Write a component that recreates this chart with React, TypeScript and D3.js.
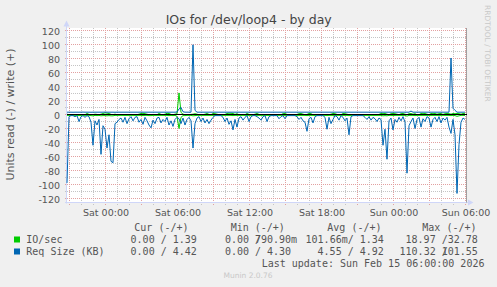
import React from 'react';
import * as d3 from 'd3';

const chartTitle = 'IOs for /dev/loop4 - by day';
const yAxisTitle = 'Units read (-) / write (+)';
const watermark = 'RRDTOOL / TOBI OETIKER';
const footer = 'Munin 2.0.76';
const lastUpdate = 'Last update: Sun Feb 15 06:00:00 2026';

const startTime = Date.UTC(2026, 1, 13, 20, 45);
const endTime = Date.UTC(2026, 1, 15, 6, 5);
const stepMinutes = 10;

const yMajorValues = [-120, -100, -80, -60, -40, -20, 0, 20, 40, 60, 80, 100, 120];
const yMinorValues = [-110, -90, -70, -50, -30, -10, 10, 30, 50, 70, 90, 110];

// IO/sec, read (drawn negative)
const ioRead = [
  0.2, 0.2, 0.2, 0.2, 0.2, 0.2, 0.5, 0.2, 0.2, 0.2,
  0.2, 0.2, 0.5, 0.8, 0.2, 0.5, 0.2, 0.8, 0.5, 0.5,
  0.8, 0.5, 0.8, 0.8, 0.2, 0.2, 0.2, 0.2, 0.2, 0.2,
  0.2, 0.2, 0.2, 0.2, 0.2, 0.2, 0.2, 0.2, 0.5, 0.2,
  0.2, 0.5, 0.5, 0.2, 0.2, 0.2, 0.2, 0.2, 0.2, 0.2,
  0.2, 0.5, 0.2, 0.5, 0.2, 1.5, 19, 3, 0.5, 0.5,
  0.2, 0.2, 0.2, 0.8, 0.5, 0.2, 0.2, 0.2, 0.2, 0.2,
  0.2, 0.2, 0.2, 0.2, 0.2, 0.2, 0.2, 0.2, 0.2, 0.2,
  0.2, 0.2, 0.2, 0.5, 0.2, 0.2, 0.2, 0.2, 0.2, 0.2,
  0.2, 0.2, 0.2, 0.2, 0.2, 0.2, 0.2, 0.2, 0.2, 0.2,
  0.2, 0.2, 0.2, 0.2, 0.2, 0.2, 0.2, 0.2, 0.2, 0.2,
  0.2, 0.2, 0.2, 0.2, 0.2, 0.2, 0.2, 0.2, 0.2, 0.2,
  0.5, 0.2, 0.2, 0.2, 0.2, 0.2, 0.2, 0.2, 0.2, 0.2,
  0.5, 0.2, 0.2, 0.2, 0.2, 0.2, 0.2, 0.2, 0.2, 0.2,
  0.2, 0.5, 0.2, 0.2, 0.2, 0.2, 0.2, 0.2, 0.2, 0.2,
  0.2, 0.2, 0.2, 0.2, 0.2, 0.2, 0.2, 0.2, 0.8, 0.5,
  0.8, 0.2, 0.2, 0.5, 0.2, 0.2, 0.2, 0.2, 0.2, 0.2,
  1.2, 0.2, 0.2, 0.2, 0.5, 0.2, 0.2, 0.2, 0.2, 0.2,
  0.2, 0.2, 0.2, 0.2, 0.2, 0.2, 0.2, 0.2, 0.2, 0.2,
  0.2, 0.2, 0.5, 0.2, 0.5, 1.5, 0.8, 0.2, 0.2, 0.2,
];

// IO/sec, write (drawn positive)
const ioWrite = [
  1.5, 0.8, 0.8, 0.8, 0.8, 0.8, 0.8, 0.8, 0.8, 0.8,
  2.5, 1.2, 0.8, 0.8, 1.5, 1.2, 0.8, 1.5, 2.5, 3.5,
  3.0, 2.5, 1.2, 0.8, 1.5, 0.8, 0.8, 1.2, 0.8, 0.8,
  0.8, 0.8, 1.2, 0.8, 0.8, 0.8, 1.5, 2.5, 2.8, 2.2,
  1.5, 0.8, 0.8, 1.2, 0.8, 0.8, 2.5, 1.2, 0.8, 1.5,
  2.8, 2.5, 1.2, 0.8, 1.5, 2.0, 32.0, 4.0, 1.5, 0.8,
  0.8, 0.8, 1.2, 1.5, 2.2, 1.5, 0.8, 1.2, 0.8, 1.5,
  2.5, 1.2, 0.8, 2.5, 2.2, 1.5, 0.8, 0.8, 0.8, 1.2,
  2.5, 3.0, 2.8, 2.5, 1.2, 2.2, 0.8, 0.8, 1.2, 0.8,
  2.5, 1.2, 0.8, 0.8, 1.5, 2.5, 1.2, 0.8, 0.8, 0.8,
  0.8, 0.8, 0.8, 0.8, 0.8, 0.8, 1.2, 0.8, 2.2, 2.5,
  1.2, 0.8, 0.8, 0.8, 0.8, 1.2, 2.2, 2.5, 1.5, 0.8,
  1.2, 2.5, 2.2, 0.8, 0.8, 0.8, 0.8, 0.8, 0.8, 0.8,
  1.2, 0.8, 1.5, 2.5, 2.2, 1.2, 0.8, 0.8, 2.5, 2.2,
  1.5, 0.8, 0.8, 0.8, 0.8, 0.8, 0.8, 0.8, 0.8, 0.8,
  0.8, 0.8, 0.8, 0.8, 0.8, 0.8, 1.2, 2.5, 2.2, 2.5,
  1.5, 0.8, 2.2, 2.5, 2.2, 1.5, 0.8, 2.2, 2.5, 1.5,
  0.8, 2.2, 2.5, 1.5, 2.2, 0.8, 0.8, 2.5, 2.2, 2.5,
  1.5, 0.8, 2.5, 2.2, 2.5, 1.5, 2.2, 2.5, 1.2, 2.2,
  2.5, 2.2, 1.5, 2.5, 2.2, 2.5, 2.2, 1.5, 2.5, 2.2,
];

// Req Size (KB), read (drawn negative)
const reqRead = [
  97, 2, 0.5, 0.5, 2, 0.5, 9, 2, 0.5, 3,
  0.5, 2, 10, 43, 8, 14, 6, 56, 15, 20,
  47, 28, 66, 68, 12, 10, 6, 4, 10, 3,
  12, 5, 2, 8, 3, 2, 10, 6, 13, 3,
  8, 14, 18, 7, 12, 4, 3, 11, 6, 9,
  3, 14, 8, 16, 6, 3, 5, 12, 4, 14,
  6, 3, 8, 47, 12, 4, 2, 9, 4, 11,
  6, 12, 7, 3, 0.5, 0.5, 0.5, 0.5, 3, 9,
  4, 13, 8, 21, 6, 17, 4, 2, 7, 3,
  0.5, 9, 2, 0.5, 0.5, 2, 4, 7, 2, 0.5,
  9, 2, 0.5, 0.5, 0.5, 0.5, 5, 2, 0.5, 5,
  0.5, 0.5, 0.5, 0.5, 0.5, 2, 6, 3, 8, 10,
  23, 5, 3, 11, 2, 0.5, 0.5, 0.5, 0.5, 3,
  20, 3, 12, 6, 0.5, 2, 7, 0.5, 3, 8,
  4, 28, 2, 0.5, 0.5, 0.5, 0.5, 0.5, 0.5, 3,
  6, 2, 7, 3, 5, 9, 4, 6, 43, 20,
  63, 8, 4, 21, 6, 10, 3, 8, 2, 10,
  83, 15, 9, 4, 19, 6, 3, 17, 5, 9,
  2, 4, 17, 6, 3, 9, 2, 11, 4, 7,
  3, 17, 26, 6, 28, 112, 42, 10, 4, 6,
];

// Req Size (KB), write (drawn positive)
const reqWrite = [
  4.4, 4.4, 4.4, 4.3, 4.4, 4.4, 4.4, 4.4, 4.5, 4.4,
  4.4, 4.4, 4.3, 4.4, 4.4, 4.4, 4.4, 4.4, 4.4, 4.5,
  4.4, 4.4, 4.4, 4.4, 4.3, 4.4, 4.4, 4.4, 4.4, 4.4,
  4.4, 4.4, 4.4, 4.4, 4.4, 4.4, 4.4, 4.5, 4.4, 4.4,
  4.4, 4.4, 4.4, 4.4, 4.4, 4.4, 4.4, 4.4, 4.4, 4.4,
  4.4, 4.4, 4.4, 4.4, 4.4, 4.6, 9.0, 11.0, 5.0, 4.4,
  4.4, 4.4, 4.4, 101.0, 7.0, 4.4, 4.4, 4.4, 4.4, 4.4,
  4.4, 4.4, 4.4, 4.4, 4.4, 4.4, 4.4, 4.4, 4.4, 4.4,
  4.4, 4.4, 4.4, 4.4, 4.4, 4.4, 4.4, 4.4, 4.4, 4.4,
  4.4, 4.4, 4.4, 4.4, 4.4, 4.4, 4.4, 4.4, 4.4, 4.4,
  4.4, 4.4, 4.4, 4.4, 4.4, 4.4, 4.4, 4.4, 4.4, 4.4,
  4.4, 4.4, 4.4, 4.4, 4.4, 4.4, 4.4, 4.4, 4.4, 4.4,
  4.4, 4.4, 4.4, 4.4, 4.4, 4.4, 4.4, 4.4, 4.4, 4.4,
  4.4, 4.4, 4.4, 4.4, 4.4, 4.4, 4.4, 4.4, 4.4, 4.4,
  4.4, 4.4, 4.4, 4.4, 4.4, 4.4, 4.4, 4.4, 4.4, 4.4,
  4.4, 4.4, 4.4, 4.4, 4.4, 4.4, 4.4, 4.4, 4.4, 4.4,
  4.4, 4.4, 4.4, 4.4, 4.4, 4.4, 4.4, 4.4, 4.4, 4.4,
  4.4, 4.4, 6.0, 4.4, 4.4, 4.4, 4.4, 4.4, 4.4, 4.4,
  4.4, 4.4, 4.4, 4.4, 4.4, 4.4, 4.4, 4.4, 4.4, 4.4,
  4.4, 4.4, 82.0, 10.0, 7.0, 4.4, 4.4, 4.4, 4.4, 4.4,
];

const seriesNames = ['IO/sec', 'Req Size (KB)'];
const seriesColors = ['#00cc00', '#0066b3'];
const statHeaders = ['Cur (-/+)', 'Min (-/+)', 'Avg (-/+)', 'Max (-/+)'];
const curValues = [['0.00', '1.39'], ['0.00', '4.42']];
const minValues = [['0.00', '790.90m'], ['0.00', '4.30']];
const avgValues = [['101.66m', '1.34'], ['4.55', '4.92']];
const maxValues = [['18.97', '32.78'], ['110.32', '101.55']];

const W = 497;
const H = 287;
const plotLeft = 67;
const plotRight = 467;
const plotTop = 28;
const plotBottom = 202.5;
const CH = 6.02;
const SANS = "'DejaVu Sans', sans-serif";
const MONO = "'DejaVu Sans Mono', monospace";
const TEXT = '#555555';
const AXIS = '#cfd6f8';

const x = d3.scaleUtc().domain([new Date(startTime), new Date(endTime)]).range([plotLeft, plotRight]);
const y = d3.scaleLinear().domain([-125, 125]).range([plotBottom, plotTop]);

const timeAt = (i: number) => new Date(startTime + i * stepMinutes * 60000);
const posLine = d3.line<number>().x((_, i) => x(timeAt(i))).y((d) => y(d));
const negLine = d3.line<number>().x((_, i) => x(timeAt(i))).y((d) => y(-d));

const crisp = (v: number) => Math.round(v) - 0.5;

function splitVal(v: string) {
  const m = v.match(/^([\d.]+)(\D*)$/);
  return m ? { num: m[1], suf: m[2] } : { num: v, suf: '' };
}

function StatCell({ pair, slashX, yy }: { pair: string[]; slashX: number; yy: number }) {
  const a = splitVal(pair[0]);
  const b = splitVal(pair[1]);
  return (
    <g>
      <text x={slashX - CH} y={yy} textAnchor="end">{a.num}</text>
      {a.suf && <text x={slashX - CH} y={yy}>{a.suf}</text>}
      <text x={slashX} y={yy}>/</text>
      <text x={slashX + 6 * CH} y={yy} textAnchor="end">{b.num}</text>
      {b.suf && <text x={slashX + 6 * CH} y={yy}>{b.suf}</text>}
    </g>
  );
}

export default function App() {
  const hourTicks = x.ticks(d3.utcHour.every(1)!);
  const majorV = hourTicks.filter((t) => t.getUTCHours() % 3 === 0);
  const minorV = hourTicks.filter((t) => t.getUTCHours() % 3 !== 0);
  const labelTicks = x.ticks(d3.utcHour.every(6)!);
  const fmt = d3.utcFormat('%a %H:%M');

  const slashXs = [160.7, 255, 347.7, 441.7];
  const headerXs = [134.3, 230.7, 327.3, 422.3];
  const statSets = [curValues, minValues, avgValues, maxValues];
  const rowY = [242.5, 254.5];

  return (
    <svg width={W} height={H} style={{ position: 'absolute', left: 0, top: 0, display: 'block' }}>
      <rect x={0} y={0} width={W} height={H} fill="#f0f0f0" />
      <rect x={plotLeft} y={plotTop} width={plotRight - plotLeft} height={plotBottom - plotTop} fill="#ffffff" />

      {/* minor grid */}
      <g stroke="#c4c4c4" strokeWidth={1} strokeDasharray="1,1" shapeRendering="crispEdges">
        {minorV.map((t, i) => (
          <line key={'mv' + i} x1={crisp(x(t))} x2={crisp(x(t))} y1={plotTop} y2={plotBottom + 2} />
        ))}
        {yMinorValues.map((v) => (
          <line key={'mh' + v} x1={plotLeft - 2} x2={plotRight} y1={crisp(y(v))} y2={crisp(y(v))} />
        ))}
      </g>
      {/* major grid */}
      <g stroke="#e2a0a0" strokeWidth={1} strokeDasharray="1,1" shapeRendering="crispEdges">
        {majorV.map((t, i) => (
          <line key={'Mv' + i} x1={crisp(x(t))} x2={crisp(x(t))} y1={plotTop} y2={plotBottom + 2} />
        ))}
        {yMajorValues.map((v) => (
          <line key={'Mh' + v} x1={plotLeft - 2} x2={plotRight} y1={crisp(y(v))} y2={crisp(y(v))} />
        ))}
      </g>

      {/* axes */}
      <line x1={66.5} x2={66.5} y1={25} y2={plotBottom + 1} stroke={AXIS} strokeWidth={1} />
      <path d="M63.5,26.5 L69.5,26.5 L66.5,20.5 Z" fill={AXIS} />
      <line x1={65} x2={469} y1={202.5} y2={202.5} stroke={AXIS} strokeWidth={1} />
      <path d="M468,199.5 L468,205.5 L473.5,202.5 Z" fill={AXIS} />
      <line x1={466.5} x2={466.5} y1={plotTop} y2={plotBottom} stroke="#a0a0a0" strokeWidth={1} />

      {/* data */}
      <path d={negLine(ioRead) || ''} fill="none" stroke={seriesColors[0]} strokeWidth={1} />
      <path d={posLine(ioWrite) || ''} fill="none" stroke={seriesColors[0]} strokeWidth={1} />
      <path d={negLine(reqRead) || ''} fill="none" stroke={seriesColors[1]} strokeWidth={1} />
      <path d={posLine(reqWrite) || ''} fill="none" stroke={seriesColors[1]} strokeWidth={1} />
      <line x1={plotLeft} x2={plotRight} y1={crisp(y(0)) + 0} y2={crisp(y(0))} stroke="#000" strokeWidth={1} />

      {/* y tick labels */}
      <g fontFamily={SANS} fontSize={9.5} fill={TEXT} textAnchor="end">
        {yMajorValues.map((v) => (
          <text key={'yl' + v} x={60} y={y(v) + 3.5}>{v}</text>
        ))}
      </g>
      {/* x tick labels */}
      <g fontFamily={SANS} fontSize={9.5} fill={TEXT} textAnchor="middle">
        {labelTicks.map((t, i) => (
          <text key={'xl' + i} x={x(t)} y={216}>{fmt(t)}</text>
        ))}
      </g>

      {/* titles */}
      <text x={248.7} y={24} textAnchor="middle" fontFamily={SANS} fontSize={12.5} fill="#444">{chartTitle}</text>
      <text transform="translate(14,114.5) rotate(-90)" textAnchor="middle" fontFamily={SANS} fontSize={11} fill={TEXT}>{yAxisTitle}</text>
      <text transform="translate(485,5) rotate(90)" fontFamily={SANS} fontSize={7.5} fill="#c8c8c8">{watermark}</text>

      {/* legend */}
      <g fontFamily={MONO} fontSize={10} fill={TEXT} style={{ whiteSpace: 'pre' }}>
        {statHeaders.map((h, i) => (
          <text key={'h' + i} x={headerXs[i]} y={230.5}>{h}</text>
        ))}
        {seriesNames.map((name, r) => (
          <g key={'row' + r}>
            <rect x={14} y={rowY[r] - 6} width={6} height={6} fill={seriesColors[r]} />
            <text x={26.3} y={rowY[r]}>{name}</text>
            {statSets.map((set, c) => (
              <StatCell key={'c' + c} pair={set[r]} slashX={slashXs[c]} yy={rowY[r]} />
            ))}
          </g>
        ))}
        <text x={261.7} y={266.5}>{lastUpdate}</text>
      </g>
      <text x={248} y={278} textAnchor="middle" fontFamily={SANS} fontSize={7.5} fill="#c8c8c8">{footer}</text>
    </svg>
  );
}
